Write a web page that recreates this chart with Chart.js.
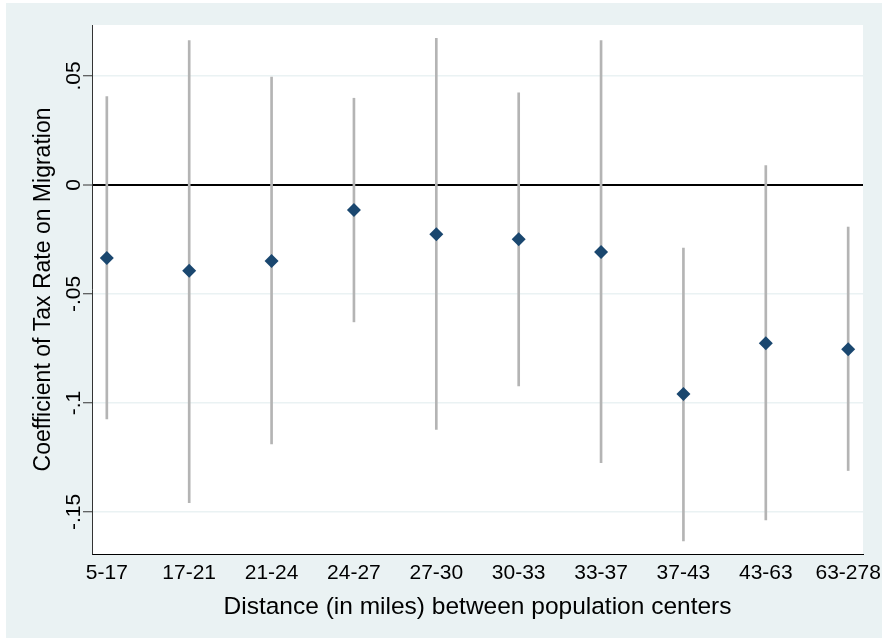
<!DOCTYPE html>
<html>
<head>
<meta charset="utf-8">
<script src="https://cdn.jsdelivr.net/npm/chart.js@4"></script>
<style>
  html, body { margin: 0; padding: 0; background: #fff; }
  #wrap { width: 882px; height: 639px; position: relative; }
</style>
</head>
<body>
<div id="wrap"><canvas id="coefChart"></canvas></div>
<script>
const categories = ["5-17", "17-21", "21-24", "24-27", "27-30", "30-33", "33-37", "37-43", "43-63", "63-278"];
const coef = [-0.0335, -0.0394, -0.0349, -0.0115, -0.0226, -0.0249, -0.0307, -0.0959, -0.0726, -0.0754];
const ciLow = [-0.1073, -0.1457, -0.1188, -0.0628, -0.1121, -0.0922, -0.1274, -0.1633, -0.1537, -0.1310];
const ciHigh = [0.0406, 0.0662, 0.0495, 0.0398, 0.0673, 0.0423, 0.0662, -0.0289, 0.0089, -0.0193];
const yTicks = [-0.15, -0.1, -0.05, 0, 0.05];
const yTickLabels = ["-.15", "-.1", "-.05", "0", ".05"];

const bgColor = '#EAF2F3';
const fontFam = "'Liberation Sans', Arial, sans-serif";

// outer light background + white plot region
const backdrop = {
  id: 'backdrop',
  beforeDraw(chart) {
    const c = chart.ctx, a = chart.chartArea;
    c.save();
    c.fillStyle = '#fff';
    c.fillRect(0, 0, chart.width, chart.height);
    c.fillStyle = bgColor;
    c.fillRect(6, 3, chart.width - 6, chart.height - 4);
    c.fillStyle = '#fff';
    c.fillRect(a.left, a.top, a.right - a.left, a.bottom - a.top);
    c.restore();
  }
};

const ctx = document.getElementById('coefChart').getContext('2d');
const chart = new Chart(ctx, {
  type: 'scatter',
  data: {
    datasets: [
      {
        type: 'scatter',
        data: coef.map((v, i) => ({ x: i, y: v })),
        pointStyle: 'rectRot',
        pointRadius: 7,
        pointHoverRadius: 7,
        backgroundColor: '#1a476f',
        borderColor: '#1a476f',
        borderWidth: 0,
        order: 1
      },
      {
        type: 'bar',
        data: categories.map((c, i) => ({ x: i, y: [ciLow[i], ciHigh[i]] })),
        backgroundColor: '#b4b4b4',
        borderWidth: 0,
        barThickness: 2,
        order: 2
      }
    ]
  },
  options: {
    responsive: true,
    maintainAspectRatio: false,
    animation: false,
    layout: { padding: { left: 6, top: 25, right: 19, bottom: 0 } },
    plugins: {
      legend: { display: false },
      tooltip: { enabled: false }
    },
    scales: {
      x: {
        type: 'linear',
        offset: false,
        min: -0.18,
        max: 9.18,
        afterBuildTicks: (s) => { s.ticks = categories.map((c, i) => ({ value: i })); },
        afterFit: (s) => { s.height = 85; s.paddingLeft = 0; s.paddingRight = 0; },
        grid: { display: false },
        border: { display: true, color: '#000', width: 1 },
        ticks: {
          color: '#000',
          font: { family: fontFam, size: 21 },
          padding: -1,
          maxRotation: 0,
          autoSkip: false,
          callback: (v) => categories[v]
        },
        title: {
          display: true,
          text: 'Distance (in miles) between population centers',
          color: '#000',
          font: { family: fontFam, size: 24.5 },
          padding: { top: 0, bottom: 17 }
        }
      },
      y: {
        min: -0.1693,
        max: 0.0734,
        afterBuildTicks: (s) => { s.ticks = yTicks.map(v => ({ value: v })); },
        afterFit: (s) => { s.width = 86; s.paddingTop = 0; s.paddingBottom = 0; },
        grid: {
          color: (c) => c.tick && c.tick.value === 0 ? '#000' : bgColor,
          lineWidth: (c) => c.tick && c.tick.value === 0 ? 2 : 1.5,
          tickColor: '#333',
          tickLength: 9,
          tickWidth: 1
        },
        border: { display: true, color: '#333', width: 1 },
        ticks: {
          color: '#000',
          font: { family: fontFam, size: 21 },
          padding: -9,
          crossAlign: 'center',
          minRotation: 90,
          maxRotation: 90,
          callback: (v) => yTickLabels[yTicks.indexOf(v)]
        },
        title: {
          display: true,
          text: 'Coefficient of Tax Rate on Migration',
          color: '#000',
          font: { family: fontFam, size: 23 },
          padding: { top: 24, bottom: 0 }
        }
      }
    }
  },
  plugins: [backdrop]
});
</script>
</body>
</html>
